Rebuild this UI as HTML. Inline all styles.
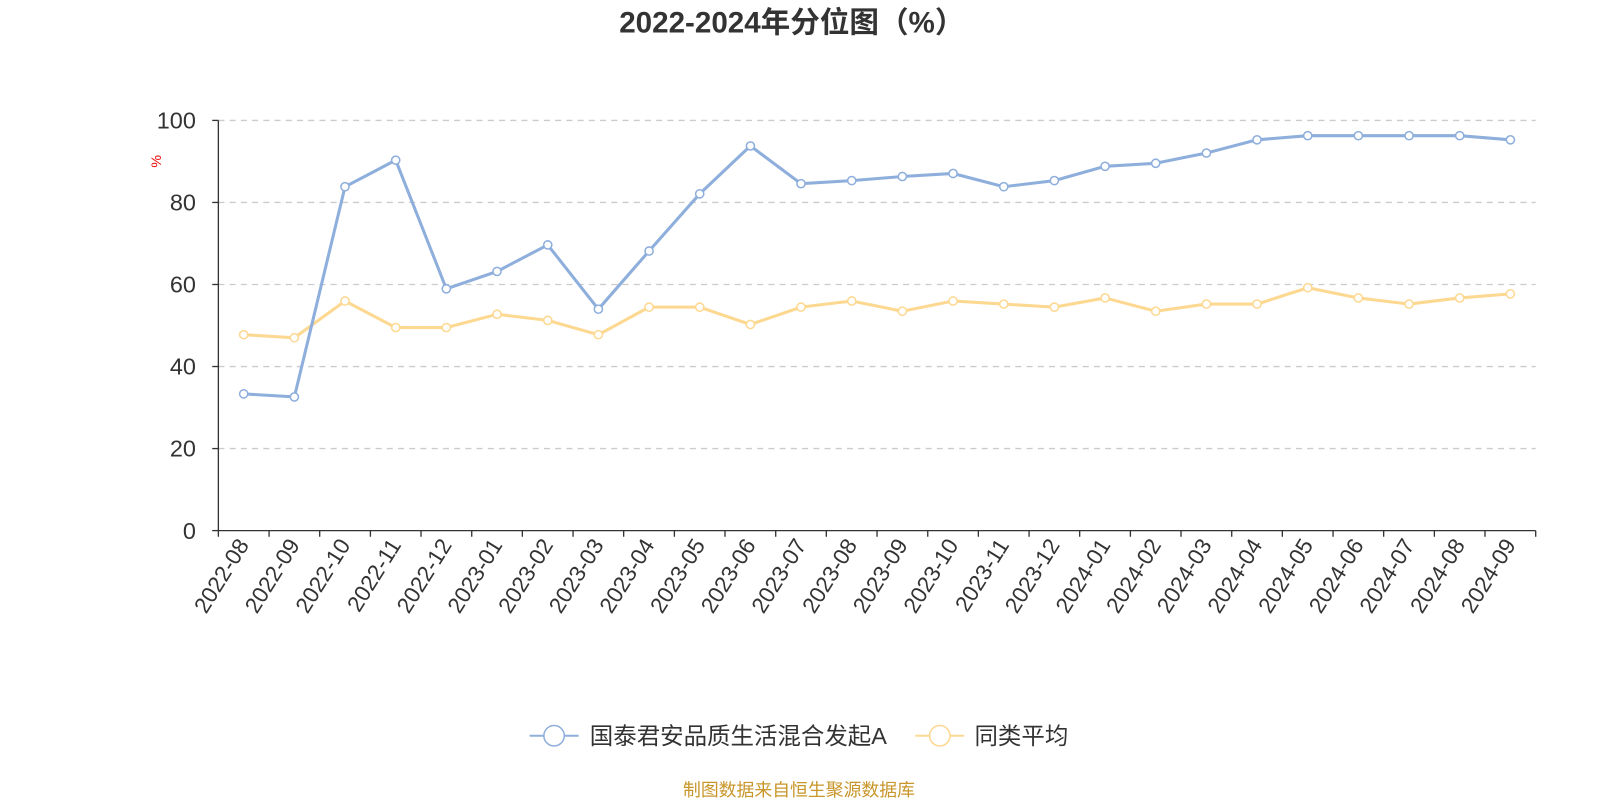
<!DOCTYPE html>
<html><head><meta charset="utf-8"><style>
body{margin:0;background:#fff;}
svg{display:block;font-family:"Liberation Sans","Noto Sans CJK SC",sans-serif;}
</style></head><body>
<svg width="1600" height="800" xmlns="http://www.w3.org/2000/svg">
<g transform="scale(1.0204)">
<text x="776" y="32" text-anchor="middle" font-size="29" font-weight="bold" fill="#333">2022-2024年分位图（%）</text>
<text transform="translate(158,158) rotate(-90)" text-anchor="middle" font-size="14" fill="#e00">%</text>
<g stroke="#ccc" stroke-dasharray="6,5" stroke-width="1.3">
<line x1="214" y1="118" x2="1505" y2="118"/>
<line x1="214" y1="198.4" x2="1505" y2="198.4"/>
<line x1="214" y1="278.8" x2="1505" y2="278.8"/>
<line x1="214" y1="359.2" x2="1505" y2="359.2"/>
<line x1="214" y1="439.6" x2="1505" y2="439.6"/>
</g>
<g stroke="#333" stroke-width="1.3">
<line x1="214" y1="118" x2="214" y2="520"/>
<line x1="214" y1="520" x2="1505" y2="520"/>
<line x1="208" y1="118" x2="214" y2="118"/>
<line x1="208" y1="198.4" x2="214" y2="198.4"/>
<line x1="208" y1="278.8" x2="214" y2="278.8"/>
<line x1="208" y1="359.2" x2="214" y2="359.2"/>
<line x1="208" y1="439.6" x2="214" y2="439.6"/>
<line x1="208" y1="520" x2="214" y2="520"/>
<path d="M214,520v6M263.7,520v6M313.3,520v6M363,520v6M412.6,520v6M462.3,520v6M511.9,520v6M561.6,520v6M611.2,520v6M660.9,520v6M710.5,520v6M760.2,520v6M809.8,520v6M859.5,520v6M909.2,520v6M958.8,520v6M1008.5,520v6M1058.1,520v6M1107.8,520v6M1157.4,520v6M1207.1,520v6M1256.7,520v6M1306.4,520v6M1356,520v6M1405.7,520v6M1455.3,520v6M1505,520v6"/>
</g>
<g font-size="23" fill="#333" text-anchor="end">
<text x="192" y="126">100</text>
<text x="192" y="206.4">80</text>
<text x="192" y="286.8">60</text>
<text x="192" y="367.2">40</text>
<text x="192" y="447.6">20</text>
<text x="192" y="528">0</text>
</g>
<g font-size="22" fill="#333" text-anchor="end">
<text transform="translate(244.8,534) rotate(-58)">2022-08</text>
<text transform="translate(294.5,534) rotate(-58)">2022-09</text>
<text transform="translate(344.1,534) rotate(-58)">2022-10</text>
<text transform="translate(393.8,534) rotate(-58)">2022-11</text>
<text transform="translate(443.4,534) rotate(-58)">2022-12</text>
<text transform="translate(493.1,534) rotate(-58)">2023-01</text>
<text transform="translate(542.8,534) rotate(-58)">2023-02</text>
<text transform="translate(592.4,534) rotate(-58)">2023-03</text>
<text transform="translate(642.1,534) rotate(-58)">2023-04</text>
<text transform="translate(691.7,534) rotate(-58)">2023-05</text>
<text transform="translate(741.4,534) rotate(-58)">2023-06</text>
<text transform="translate(791,534) rotate(-58)">2023-07</text>
<text transform="translate(840.7,534) rotate(-58)">2023-08</text>
<text transform="translate(890.3,534) rotate(-58)">2023-09</text>
<text transform="translate(940,534) rotate(-58)">2023-10</text>
<text transform="translate(989.7,534) rotate(-58)">2023-11</text>
<text transform="translate(1039.3,534) rotate(-58)">2023-12</text>
<text transform="translate(1089,534) rotate(-58)">2024-01</text>
<text transform="translate(1138.6,534) rotate(-58)">2024-02</text>
<text transform="translate(1188.3,534) rotate(-58)">2024-03</text>
<text transform="translate(1237.9,534) rotate(-58)">2024-04</text>
<text transform="translate(1287.6,534) rotate(-58)">2024-05</text>
<text transform="translate(1337.2,534) rotate(-58)">2024-06</text>
<text transform="translate(1386.9,534) rotate(-58)">2024-07</text>
<text transform="translate(1436.5,534) rotate(-58)">2024-08</text>
<text transform="translate(1486.2,534) rotate(-58)">2024-09</text>
</g>
<path fill="none" stroke="#fdd891" stroke-width="3" d="M238.8,328L288.5,331L338.1,295L387.8,321L437.4,321L487.1,308L536.8,314L586.4,328L636.1,301L685.7,301L735.4,318L785,301L834.7,295L884.3,305L934,295L983.7,298L1033.3,301L1083,292L1132.6,305L1182.3,298L1231.9,298L1281.6,282L1331.2,292L1380.9,298L1430.5,292L1480.2,288"/>
<g fill="#fff" stroke="#fdd891" stroke-width="1.5">
<circle cx="238.8" cy="328" r="4"/><circle cx="288.5" cy="331" r="4"/><circle cx="338.1" cy="295" r="4"/><circle cx="387.8" cy="321" r="4"/><circle cx="437.4" cy="321" r="4"/><circle cx="487.1" cy="308" r="4"/><circle cx="536.8" cy="314" r="4"/><circle cx="586.4" cy="328" r="4"/><circle cx="636.1" cy="301" r="4"/><circle cx="685.7" cy="301" r="4"/><circle cx="735.4" cy="318" r="4"/><circle cx="785" cy="301" r="4"/><circle cx="834.7" cy="295" r="4"/><circle cx="884.3" cy="305" r="4"/><circle cx="934" cy="295" r="4"/><circle cx="983.7" cy="298" r="4"/><circle cx="1033.3" cy="301" r="4"/><circle cx="1083" cy="292" r="4"/><circle cx="1132.6" cy="305" r="4"/><circle cx="1182.3" cy="298" r="4"/><circle cx="1231.9" cy="298" r="4"/><circle cx="1281.6" cy="282" r="4"/><circle cx="1331.2" cy="292" r="4"/><circle cx="1380.9" cy="298" r="4"/><circle cx="1430.5" cy="292" r="4"/><circle cx="1480.2" cy="288" r="4"/>
</g>
<path fill="none" stroke="#8eaedc" stroke-width="3" d="M238.8,386L288.5,389L338.1,183L387.8,157L437.4,283L487.1,266L536.8,240L586.4,303L636.1,246L685.7,190L735.4,143L785,180L834.7,177L884.3,173L934,170L983.7,183L1033.3,177L1083,163L1132.6,160L1182.3,150L1231.9,137L1281.6,133L1331.2,133L1380.9,133L1430.5,133L1480.2,137"/>
<g fill="#fff" stroke="#8eaedc" stroke-width="1.5">
<circle cx="238.8" cy="386" r="4"/><circle cx="288.5" cy="389" r="4"/><circle cx="338.1" cy="183" r="4"/><circle cx="387.8" cy="157" r="4"/><circle cx="437.4" cy="283" r="4"/><circle cx="487.1" cy="266" r="4"/><circle cx="536.8" cy="240" r="4"/><circle cx="586.4" cy="303" r="4"/><circle cx="636.1" cy="246" r="4"/><circle cx="685.7" cy="190" r="4"/><circle cx="735.4" cy="143" r="4"/><circle cx="785" cy="180" r="4"/><circle cx="834.7" cy="177" r="4"/><circle cx="884.3" cy="173" r="4"/><circle cx="934" cy="170" r="4"/><circle cx="983.7" cy="183" r="4"/><circle cx="1033.3" cy="177" r="4"/><circle cx="1083" cy="163" r="4"/><circle cx="1132.6" cy="160" r="4"/><circle cx="1182.3" cy="150" r="4"/><circle cx="1231.9" cy="137" r="4"/><circle cx="1281.6" cy="133" r="4"/><circle cx="1331.2" cy="133" r="4"/><circle cx="1380.9" cy="133" r="4"/><circle cx="1430.5" cy="133" r="4"/><circle cx="1480.2" cy="137" r="4"/>
</g>
<line x1="519" y1="721" x2="567" y2="721" stroke="#8eaedc" stroke-width="2"/>
<circle cx="543" cy="721" r="10" fill="#fff" stroke="#8eaedc" stroke-width="1.5"/>
<text x="578" y="729" font-size="23" fill="#333">国泰君安品质生活混合发起A</text>
<line x1="897" y1="721" x2="945" y2="721" stroke="#fdd891" stroke-width="2"/>
<circle cx="921" cy="721" r="10" fill="#fff" stroke="#fdd891" stroke-width="1.5"/>
<text x="955" y="729" font-size="23" fill="#333">同类平均</text>
<text x="783" y="780" text-anchor="middle" font-size="17.5" fill="#c8962a">制图数据来自恒生聚源数据库</text>
</g>
</svg>
</body></html>
